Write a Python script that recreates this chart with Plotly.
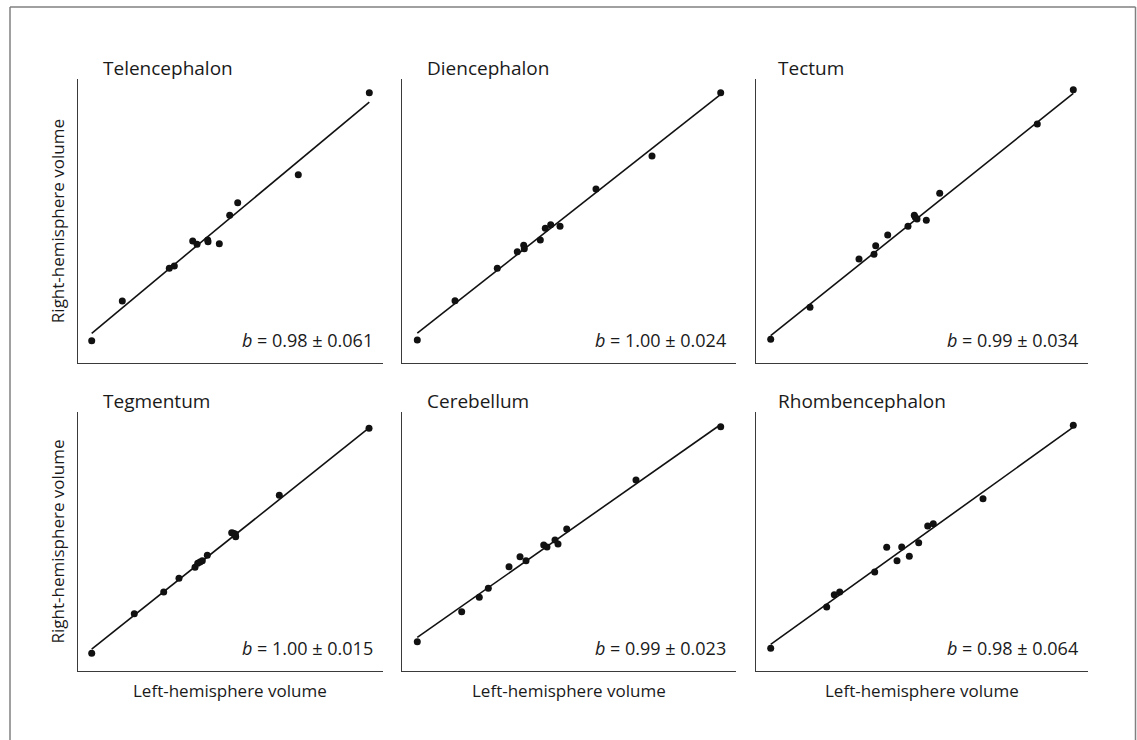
import plotly.graph_objects as go

# ---------------- data (arbitrary volume units) ----------------
regions = ["Telencephalon", "Diencephalon", "Tectum", "Tegmentum", "Cerebellum", "Rhombencephalon"]
b_value = ["0.98", "1.00", "0.99", "1.00", "0.99", "0.98"]
b_se = ["0.061", "0.024", "0.034", "0.015", "0.023", "0.064"]

telencephalon_left = [4.65, 14.66, 30.05, 31.69, 37.71, 39.12, 42.62, 42.72, 46.42, 49.82, 52.44, 72.27, 95.52]
telencephalon_right = [7.95, 21.91, 33.42, 34.22, 43.02, 41.86, 43.37, 42.77, 42.07, 52.06, 56.49, 66.34, 95.18]

diencephalon_left = [4.58, 15.87, 28.53, 34.52, 36.44, 36.62, 41.41, 42.90, 44.52, 47.31, 58.08, 74.85, 95.42]
diencephalon_right = [8.20, 22.02, 33.42, 39.25, 41.51, 40.31, 43.37, 47.48, 48.75, 48.19, 61.31, 72.92, 95.18]

tectum_left = [4.57, 16.39, 31.13, 35.64, 36.15, 39.76, 45.86, 47.76, 48.06, 48.57, 51.37, 55.40, 84.75, 95.58]
tectum_right = [8.44, 19.70, 36.69, 38.34, 41.36, 45.13, 48.19, 52.06, 51.35, 50.76, 50.30, 59.80, 84.17, 96.24]

tegmentum_left = [4.65, 18.59, 28.22, 33.22, 38.46, 39.35, 40.10, 40.85, 42.49, 50.47, 51.00, 51.55, 51.78, 51.65, 66.06, 95.42]
tegmentum_right = [6.83, 22.12, 30.50, 35.79, 40.04, 41.58, 42.08, 42.59, 44.67, 53.40, 53.17, 52.51, 51.85, 52.90, 67.84, 93.71]

cerebellum_left = [4.58, 17.87, 23.14, 25.84, 32.04, 35.33, 37.13, 42.43, 43.41, 45.81, 46.71, 49.31, 70.06, 95.42]
cerebellum_right = [11.31, 22.90, 28.46, 31.93, 40.27, 44.13, 42.59, 48.65, 47.88, 50.58, 49.03, 54.83, 73.75, 94.32]

rhombencephalon_left = [4.57, 21.41, 23.70, 25.32, 35.85, 39.46, 42.56, 43.97, 46.26, 49.08, 51.79, 53.47, 68.42, 95.58]
rhombencephalon_right = [8.76, 24.71, 29.46, 30.50, 38.22, 47.76, 42.59, 47.88, 44.29, 49.54, 55.98, 56.87, 66.53, 94.86]

fit_intercept = [6.39, 6.39, 5.47, 4.04, 8.82, 6.10]
fit_slope = [0.895, 0.924, 0.936, 0.941, 0.905, 0.921]

left_sets = [telencephalon_left, diencephalon_left, tectum_left, tegmentum_left, cerebellum_left, rhombencephalon_left]
right_sets = [telencephalon_right, diencephalon_right, tectum_right, tegmentum_right, cerebellum_right, rhombencephalon_right]

# ---------------- layout constants (pixels) ----------------
W, H = 1137, 740
col_px = [(77.5, 383.0), (402.0, 736.0), (755.5, 1088.0)]
row_px = [(79.0, 363.3), (412.0, 671.0)]
title_dx = [23, 23, 20]
FONT = "Open Sans, Noto Sans, Liberation Sans, sans-serif"
TXT = "#1a1a1a"
AX = "#3a3a3a"

def px(x):
    return x / W

def py(y):
    return 1 - y / H

fig = go.Figure()
annotations = []
layout = {}

for i, name in enumerate(regions):
    r, c = divmod(i, 3)
    L, R = col_px[c]
    T, B = row_px[r]
    xa = "x" if i == 0 else f"x{i+1}"
    ya = "y" if i == 0 else f"y{i+1}"
    xs = left_sets[i]
    ys = right_sets[i]
    x0, x1 = min(xs), max(xs)
    fig.add_trace(go.Scatter(
        x=[x0, x1], y=[fit_intercept[i] + fit_slope[i] * x0, fit_intercept[i] + fit_slope[i] * x1],
        mode="lines", line=dict(color="#111111", width=1.6),
        xaxis=xa, yaxis=ya, showlegend=False, hoverinfo="skip"))
    fig.add_trace(go.Scatter(
        x=xs, y=ys, mode="markers",
        marker=dict(color="#111111", size=7, line=dict(width=0)),
        xaxis=xa, yaxis=ya, showlegend=False, name=name))

    axcommon = dict(range=[0, 100], showline=True, linecolor=AX, linewidth=1.4,
                    showticklabels=False, ticks="", showgrid=False, zeroline=False,
                    fixedrange=True)
    layout["xaxis" if i == 0 else f"xaxis{i+1}"] = dict(
        domain=[px(L), px(R)], anchor=ya, **axcommon)
    layout["yaxis" if i == 0 else f"yaxis{i+1}"] = dict(
        domain=[py(B), py(T)], anchor=xa, **axcommon)

    # panel title
    annotations.append(dict(
        text=name, xref="paper", yref="paper", x=px(L + title_dx[c]), y=py(T - 11),
        xanchor="left", yanchor="middle", showarrow=False,
        font=dict(family=FONT, size=19, color=TXT)))
    # slope annotation
    annotations.append(dict(
        text=f"<i>b</i> = {b_value[i]} \u00b1 {b_se[i]}", xref="paper", yref="paper",
        x=px(R - 8), y=py(B - 23.5), xanchor="right", yanchor="middle", showarrow=False,
        font=dict(family=FONT, size=18, color=TXT)))
    # x-axis label under bottom row
    if r == 1:
        annotations.append(dict(
            text="Left-hemisphere volume", xref="paper", yref="paper",
            x=px((L + R) / 2), y=py(B + 19), xanchor="center", yanchor="middle",
            showarrow=False, font=dict(family=FONT, size=17, color=TXT)))
    # y-axis label on left column
    if c == 0:
        annotations.append(dict(
            text="Right-hemisphere volume", xref="paper", yref="paper",
            x=px(57), y=py((T + B) / 2), xanchor="center", yanchor="middle",
            textangle=-90, showarrow=False, font=dict(family=FONT, size=17, color=TXT)))

border = dict(color="#808080", width=1.5)
shapes = [
    dict(type="line", xref="paper", yref="paper", x0=px(10), x1=px(10), y0=py(7), y1=py(760), line=border),
    dict(type="line", xref="paper", yref="paper", x0=px(10), x1=px(1135.5), y0=py(7), y1=py(7), line=border),
    dict(type="line", xref="paper", yref="paper", x0=px(1135.5), x1=px(1135.5), y0=py(7), y1=py(760), line=border),
]

fig.update_layout(
    width=W, height=H, autosize=False,
    margin=dict(l=0, r=0, t=0, b=0),
    paper_bgcolor="white", plot_bgcolor="white",
    annotations=annotations, shapes=shapes, showlegend=False,
    font=dict(family=FONT, color=TXT),
    **layout)

fig.write_html("out.html")
